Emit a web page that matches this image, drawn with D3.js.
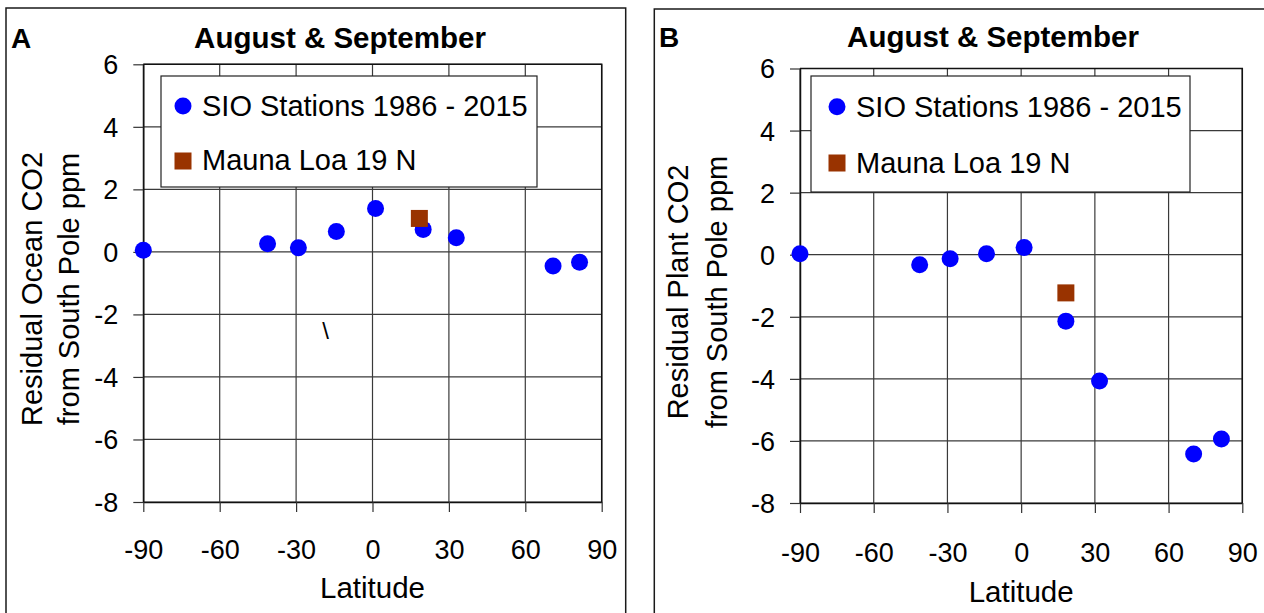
<!DOCTYPE html>
<html>
<head>
<meta charset="utf-8">
<script src="https://cdn.jsdelivr.net/npm/d3@7"></script>
<style>
  html, body { margin: 0; padding: 0; background: #fff; }
  svg { display: block; font-family: "Liberation Sans", Arial, sans-serif; }
</style>
</head>
<body>
<svg id="chart" width="1264" height="613"></svg>
<script>
// Latitude ticks and residual CO2 ticks shared by both panels
const xTicks = [-90, -60, -30, 0, 30, 60, 90];
const yTicks = [6, 4, 2, 0, -2, -4, -6, -8];

// Panel A: residual ocean CO2 (ppm from South Pole), Aug & Sep
const oceanStationLat = [-90, -41.2, -29.1, -14.2, 1.2, 19.9, 32.9, 70.9, 81.3];
const oceanStationVal = [0.05, 0.26, 0.13, 0.65, 1.39, 0.72, 0.45, -0.45, -0.33];
const oceanMaunaLat = [18.4];
const oceanMaunaVal = [1.07];

// Panel B: residual plant CO2 (ppm from South Pole), Aug & Sep
const plantStationLat = [-90, -41.3, -28.9, -14.1, 1.2, 18.2, 31.9, 70.2, 81.5];
const plantStationVal = [0.03, -0.32, -0.13, 0.03, 0.23, -2.14, -4.07, -6.42, -5.94];
const plantMaunaLat = [18.2];
const plantMaunaVal = [-1.23];

const legendLabels = ["SIO Stations 1986 - 2015", "Mauna Loa 19 N"];
const titleText = "August & September";

const svg = d3.select("#chart");
const BLUE = "#0000ff";
const BROWN = "#993300";
// plain hyphen for negative numbers
const fmt = d => String(d);

function drawPanel(p) {
  const g = svg.append("g");

  // panel frame
  g.append("path")
    .attr("d", `M${p.frame[0]},${p.frame[3]} V${p.frame[1]} H${p.frame[2]} V${p.frame[3]}`)
    .attr("fill", "none").attr("stroke", "#1a1a1a").attr("stroke-width", 1.5);

  const x = d3.scaleLinear().domain([-90, 90]).range(p.xr);
  const y = d3.scaleLinear().domain([-8, 6]).range(p.yr);

  // gridlines
  const grid = g.append("g").attr("stroke", "#3a3a3a").attr("stroke-width", 1.2);
  grid.selectAll(".gx").data(xTicks).join("line")
    .attr("x1", d => x(d)).attr("x2", d => x(d))
    .attr("y1", p.yr[1]).attr("y2", p.yr[0]);
  grid.selectAll(".gy").data(yTicks).join("line")
    .attr("x1", p.xr[0]).attr("x2", p.xr[1])
    .attr("y1", d => y(d)).attr("y2", d => y(d));

  // axes with outward ticks
  const ax = g.append("g").attr("transform", `translate(0,${p.yr[0]})`)
    .call(d3.axisBottom(x).tickValues(xTicks).tickFormat(fmt).tickSize(10).tickSizeOuter(0).tickPadding(p.xPad));
  const ay = g.append("g").attr("transform", `translate(${p.xr[0]},0)`)
    .call(d3.axisLeft(y).tickValues(yTicks).tickFormat(fmt).tickSize(10).tickSizeOuter(0).tickPadding(15));
  [ax, ay].forEach(a => {
    a.select(".domain").attr("stroke", "#111").attr("stroke-width", 1.5);
    a.selectAll(".tick line").attr("stroke", "#333").attr("stroke-width", 1.2);
    a.selectAll(".tick text").attr("fill", "#000").attr("font-size", 27)
      .attr("font-family", "'Liberation Sans', Arial, sans-serif");
  });
  ax.selectAll(".tick text").attr("dy", "0.71em");
  ay.selectAll(".tick text").attr("dy", "0.35em");

  // plot area border (top and right)
  g.append("path")
    .attr("d", `M${p.xr[0]},${p.yr[1]} H${p.xr[1]} V${p.yr[0]}`)
    .attr("fill", "none").attr("stroke", "#111").attr("stroke-width", 1.5);

  // legend
  const L = p.legend;
  g.append("rect").attr("x", L[0]).attr("y", L[1]).attr("width", L[2] - L[0]).attr("height", L[3] - L[1])
    .attr("fill", "#fff").attr("stroke", "#222").attr("stroke-width", 1.2);
  g.append("circle").attr("cx", p.legMark).attr("cy", p.legRows[0]).attr("r", 8.5).attr("fill", BLUE);
  g.append("rect").attr("x", p.legMark - 8.5).attr("y", p.legRows[1] - 8.5).attr("width", 17).attr("height", 17).attr("fill", BROWN);
  g.selectAll(".lt").data(legendLabels).join("text")
    .attr("x", p.legText).attr("y", (d, i) => p.legBase[i])
    .attr("font-size", 29).attr("fill", "#000").text(d => d);

  // data marks
  g.selectAll(".st").data(p.stLat).join("circle")
    .attr("cx", d => x(d)).attr("cy", (d, i) => y(p.stVal[i])).attr("r", 8.5).attr("fill", BLUE);
  g.selectAll(".ml").data(p.mlLat).join("rect")
    .attr("x", d => x(d) - 8.5).attr("y", (d, i) => y(p.mlVal[i]) - 8.5)
    .attr("width", 17).attr("height", 17).attr("fill", BROWN);

  // titles and labels
  g.append("text").attr("x", p.letter[0]).attr("y", p.letter[1]).attr("font-size", 28)
    .attr("font-weight", "bold").text(p.letterText);
  g.append("text").attr("x", p.title[0]).attr("y", p.title[1]).attr("font-size", 29.5)
    .attr("font-weight", "bold").attr("text-anchor", "middle").text(titleText);
  g.append("text").attr("x", (p.xr[0] + p.xr[1]) / 2).attr("y", p.xLabelY).attr("font-size", 29.5)
    .attr("text-anchor", "middle").text("Latitude");
  p.yLabel.forEach((t, i) => {
    g.append("text").attr("transform", `translate(${p.yLabelX[i]},${p.yLabelC}) rotate(-90)`)
      .attr("font-size", 29).attr("text-anchor", "middle").text(t);
  });
  return { g, x, y };
}

const A = drawPanel({
  frame: [6, 8, 625.7, 620],
  xr: [143.3, 601.7], yr: [502, 64.3], xPad: 28,
  legend: [161, 76, 537, 187], legMark: 183, legRows: [106, 161], legText: 202, legBase: [116, 170],
  stLat: oceanStationLat, stVal: oceanStationVal, mlLat: oceanMaunaLat, mlVal: oceanMaunaVal,
  letter: [11, 48], letterText: "A", title: [340, 48],
  xLabelY: 598, yLabel: ["Residual Ocean CO2", "from South Pole ppm"], yLabelX: [41.7, 79], yLabelC: 289
});
// stray backslash glyph inside panel A
A.g.append("text").attr("x", 325.5).attr("y", 339).attr("font-size", 24)
  .attr("text-anchor", "middle").text("\\");

drawPanel({
  frame: [654.3, 9, 1270, 620],
  xr: [800, 1242.3], yr: [503, 68.5], xPad: 30,
  legend: [811, 76, 1190, 192], legMark: 837, legRows: [106.7, 163], legText: 856, legBase: [116.7, 172.7],
  stLat: plantStationLat, stVal: plantStationVal, mlLat: plantMaunaLat, mlVal: plantMaunaVal,
  letter: [659, 47], letterText: "B", title: [993, 47],
  xLabelY: 602, yLabel: ["Residual Plant CO2", "from South Pole ppm"], yLabelX: [688.3, 726.7], yLabelC: 292
});
</script>
</body>
</html>
